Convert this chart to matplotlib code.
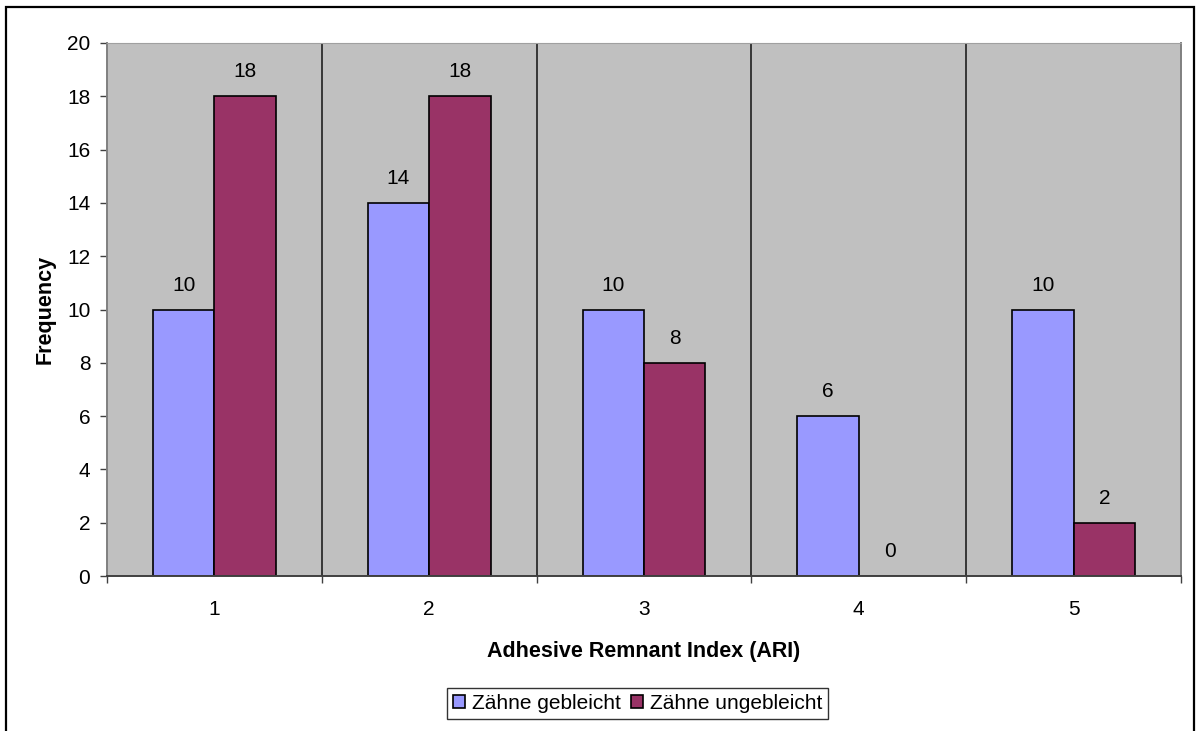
import matplotlib
matplotlib.use("Agg")
import matplotlib.pyplot as plt
from matplotlib.patches import Rectangle
import numpy as np

plt.rcParams['font.family'] = ['Liberation Sans', 'DejaVu Sans']

categories = ["1", "2", "3", "4", "5"]
gebleicht = [10, 14, 10, 6, 10]
ungebleicht = [18, 18, 8, 0, 2]
series_names = ["Zähne gebleicht", "Zähne ungebleicht"]
y_ticks = [0, 2, 4, 6, 8, 10, 12, 14, 16, 18, 20]

W, H = 1196, 731
fig = plt.figure(figsize=(W / 100, H / 100), dpi=100)
fig.patch.set_facecolor("white")

# outer chart frame
fig.add_artist(Rectangle((5.5 / W, -0.01), (1194 - 5.5) / W, 1 - 7 / H + 0.01,
                         transform=fig.transFigure, fill=False,
                         edgecolor="black", linewidth=1.6))

left, right, top, bottom = 107, 1181, 43, 576
ax = fig.add_axes([left / W, 1 - bottom / H, (right - left) / W, (bottom - top) / H])
ax.set_facecolor("#C0C0C0")

x = np.arange(len(categories))
bw = 0.286
blue = "#9999FF"
maroon = "#993366"
b1 = ax.bar(x - bw / 2, gebleicht, bw, color=blue, edgecolor="black", linewidth=1.2,
            label=series_names[0], zorder=3)
b2 = ax.bar(x + bw / 2, ungebleicht, bw, color=maroon, edgecolor="black", linewidth=1.2,
            label=series_names[1], zorder=3)

for bars, vals in ((b1, gebleicht), (b2, ungebleicht)):
    for rect, v in zip(bars, vals):
        ax.annotate(f"{v}", (rect.get_x() + rect.get_width() / 2, v),
                    xytext=(0, 17.5), textcoords="offset points",
                    ha="center", va="center", fontsize=15, color="black")

ax.set_xlim(-0.5, len(categories) - 0.5)
ax.set_ylim(0, 20)
ax.set_yticks(y_ticks)
ax.set_yticklabels([str(t) for t in y_ticks], fontsize=15)

# category labels centred, tick marks on the category boundaries
ax.set_xticks(x)
ax.set_xticklabels(categories, fontsize=15)
ax.tick_params(axis="x", length=0, pad=17)
ax.set_xticks(np.arange(-0.5, len(categories)), minor=True)
ax.tick_params(axis="x", which="minor", length=5, width=1, color="#404040", direction="out")
ax.tick_params(axis="y", length=5, width=1, color="#404040", direction="out", pad=7)

for b in np.arange(0.5, len(categories) - 0.5):
    ax.axvline(b, color="#202020", linewidth=1.2, zorder=1)

for s in ("left", "bottom"):
    ax.spines[s].set_color("#404040")
    ax.spines[s].set_linewidth(1.4)
ax.spines["left"].set_color("#808080")
ax.spines["top"].set_color("#A0A0A0")
ax.spines["right"].set_color("#808080")
ax.spines["right"].set_linewidth(1.4)
ax.spines["bottom"].set_zorder(5)

ax.set_xlabel("Adhesive Remnant Index (ARI)", fontsize=15.5, fontweight="bold", labelpad=16)
ax.set_ylabel("Frequency", fontsize=15.5, fontweight="bold", labelpad=8)

leg = fig.legend(handles=[b1, b2], labels=series_names, loc="center",
                 bbox_to_anchor=(637.5 / W, 1 - 703.5 / H), ncol=2, fontsize=15,
                 frameon=True, fancybox=False, edgecolor="black",
                 handlelength=0.6, handleheight=0.6, handletextpad=0.3,
                 columnspacing=0.5, borderpad=0.3, borderaxespad=0)
leg.get_frame().set_linewidth(1.0)

fig.savefig("out.png", dpi=100, facecolor="white")
